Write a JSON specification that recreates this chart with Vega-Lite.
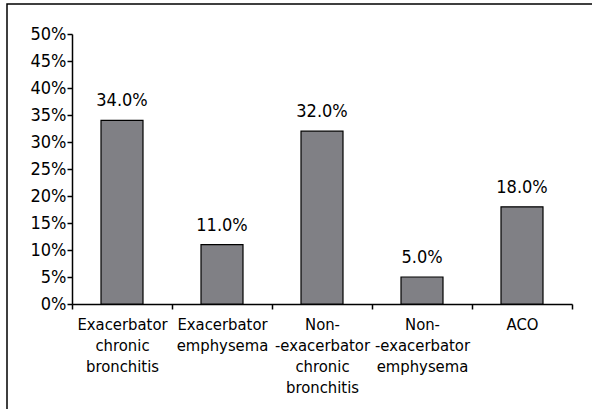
{
  "$schema": "https://vega.github.io/schema/vega-lite/v6.json",
  "width": 600,
  "height": 420,
  "autosize": {"type": "none"},
  "padding": {"left": 7, "top": 4, "right": -15, "bottom": -15},
  "background": "white",
  "config": {
    "view": {"stroke": "black", "strokeWidth": 1.5},
    "font": "DejaVu Sans Condensed, DejaVu Sans, sans-serif",
    "axis": {"labelFont": "DejaVu Sans Condensed, DejaVu Sans, sans-serif", "labelColor": "black", "domainColor": "black", "tickColor": "black", "domainWidth": 1.5, "tickWidth": 1.5, "grid": false, "title": null}
  },
  "data": {
    "values": [
      {"group": "Exacerbator|chronic|bronchitis", "value": 0.34},
      {"group": "Exacerbator|emphysema", "value": 0.11},
      {"group": "Non-|-exacerbator|chronic|bronchitis", "value": 0.32},
      {"group": "Non-|-exacerbator|emphysema", "value": 0.05},
      {"group": "ACO", "value": 0.18}
    ]
  },
  "encoding": {
    "x": {
      "field": "group",
      "type": "nominal",
      "sort": null,
      "scale": {"type": "band", "range": [65, 565], "paddingInner": 0, "paddingOuter": 0},
      "axis": {
        "orient": "bottom",
        "offset": -120,
        "labelAngle": 0,
        "tickBand": "extent",
        "tickSize": 5,
        "labelFontSize": 16.5,
        "labelLineHeight": 21,
        "labelPadding": 7,
        "labelExpr": "split(datum.label, '|')"
      }
    }
  },
  "layer": [
    {
      "mark": {"type": "bar", "width": 42, "fill": "#808085", "stroke": "black", "strokeWidth": 1.2},
      "encoding": {
        "y": {
          "field": "value",
          "type": "quantitative",
          "scale": {"domain": [0, 0.5], "range": [300, 30], "nice": false},
          "axis": {"orient": "left", "offset": -65, "values": [0, 0.05, 0.1, 0.15, 0.2, 0.25, 0.3, 0.35, 0.4, 0.45, 0.5], "format": ".0%", "tickSize": 5, "labelFontSize": 18, "labelPadding": 1}
        }
      }
    },
    {
      "mark": {"type": "text", "dy": -14, "baseline": "alphabetic", "fontSize": 18, "color": "black"},
      "encoding": {
        "y": {"field": "value", "type": "quantitative"},
        "text": {"field": "value", "type": "quantitative", "format": ".1%"}
      }
    }
  ]
}
